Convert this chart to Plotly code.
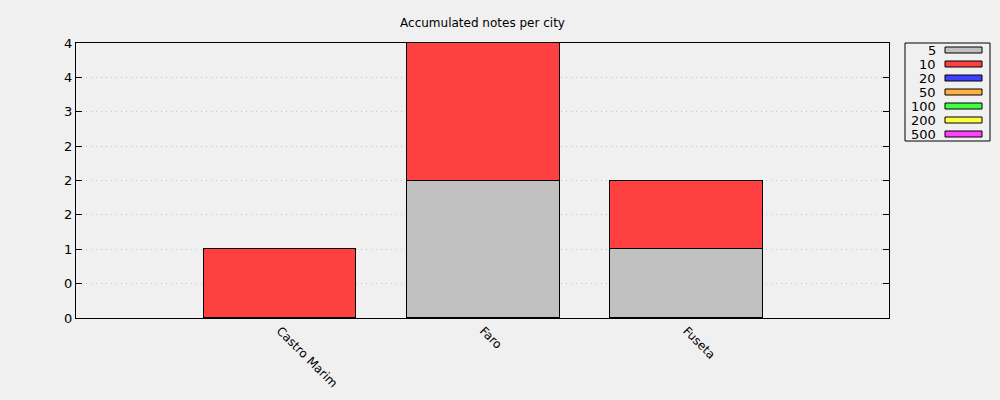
import plotly.graph_objects as go

cities = ["Castro Marim", "Faro", "Fuseta"]
denominations = ["5", "10", "20", "50", "100", "200", "500"]
notes_5 = [0, 2, 1]
notes_10 = [1, 2, 1]
notes_20 = [0, 0, 0]
notes_50 = [0, 0, 0]
notes_100 = [0, 0, 0]
notes_200 = [0, 0, 0]
notes_500 = [0, 0, 0]
colors = ["#c0c0c0", "#ff4040", "#4040ff", "#ffb040", "#40ff40", "#ffff40", "#ff40ff"]
y_tickvals = [0, 0.5, 1, 1.5, 2, 2.5, 3, 3.5, 4]
y_ticktext = ["0", "0", "1", "2", "2", "2", "3", "4", "4"]

series = [notes_5, notes_10, notes_20, notes_50, notes_100, notes_200, notes_500]

FONT = "DejaVu Sans"
fig = go.Figure()
for name, vals, col in zip(denominations, series, colors):
    fig.add_trace(go.Bar(
        x=cities, y=vals, name=name, width=0.75,
        marker=dict(color=col, line=dict(color="black", width=1)),
        showlegend=False,
    ))

# plot area in pixels
L, R, T, B = 76, 889, 43, 318
W, H = R - L, B - T
def px(x):
    return (x - L) / W
def py(y):
    return (B - y) / H

shapes = []
annotations = []
# legend box
shapes.append(dict(type="rect", xref="paper", yref="paper",
                   x0=px(905), x1=px(990), y0=py(141), y1=py(43),
                   line=dict(color="black", width=1), fillcolor="rgba(0,0,0,0)"))
for i, (name, col) in enumerate(zip(denominations, colors)):
    yc = 50 + 14 * i
    shapes.append(dict(type="rect", xref="paper", yref="paper",
                       x0=px(945), x1=px(982), y0=py(yc + 3), y1=py(yc - 3),
                       line=dict(color="black", width=1), fillcolor=col))
    annotations.append(dict(xref="paper", yref="paper", x=px(938), y=py(yc),
                            text=name, showarrow=False, xanchor="right", yanchor="middle",
                            font=dict(family=FONT, size=13, color="black")))

fig.update_layout(
    width=1000, height=400,
    margin=dict(l=L, r=1000 - R, t=T, b=400 - B, autoexpand=False),
    paper_bgcolor="#f0f0f0", plot_bgcolor="#f0f0f0",
    barmode="stack", bargap=0,
    font=dict(family=FONT, size=13, color="black"),
    title=dict(text="Accumulated notes per city", x=0.5, xref="paper", y=1 - 22.5 / 400,
               yanchor="middle", xanchor="center", font=dict(family=FONT, size=12, color="black")),
    xaxis=dict(type="category", range=[-1.004, 2.996], showline=True, mirror=True, linecolor="black",
               linewidth=1, ticks="", tickangle=45, showgrid=False, zeroline=False, automargin=False,
               tickfont=dict(family=FONT, size=12)),
    yaxis=dict(range=[0, 4], tickvals=y_tickvals, ticktext=y_ticktext, showline=True, mirror="ticks",
               linecolor="black", linewidth=1, ticks="inside", ticklen=6, tickcolor="black",
               showgrid=True, gridcolor="#c0c0c0", griddash="1px,4px", gridwidth=1, zeroline=False,
               automargin=False, tickfont=dict(family=FONT, size=13)),
    shapes=shapes, annotations=annotations,
    showlegend=False,
)
fig.write_html("out.html")
